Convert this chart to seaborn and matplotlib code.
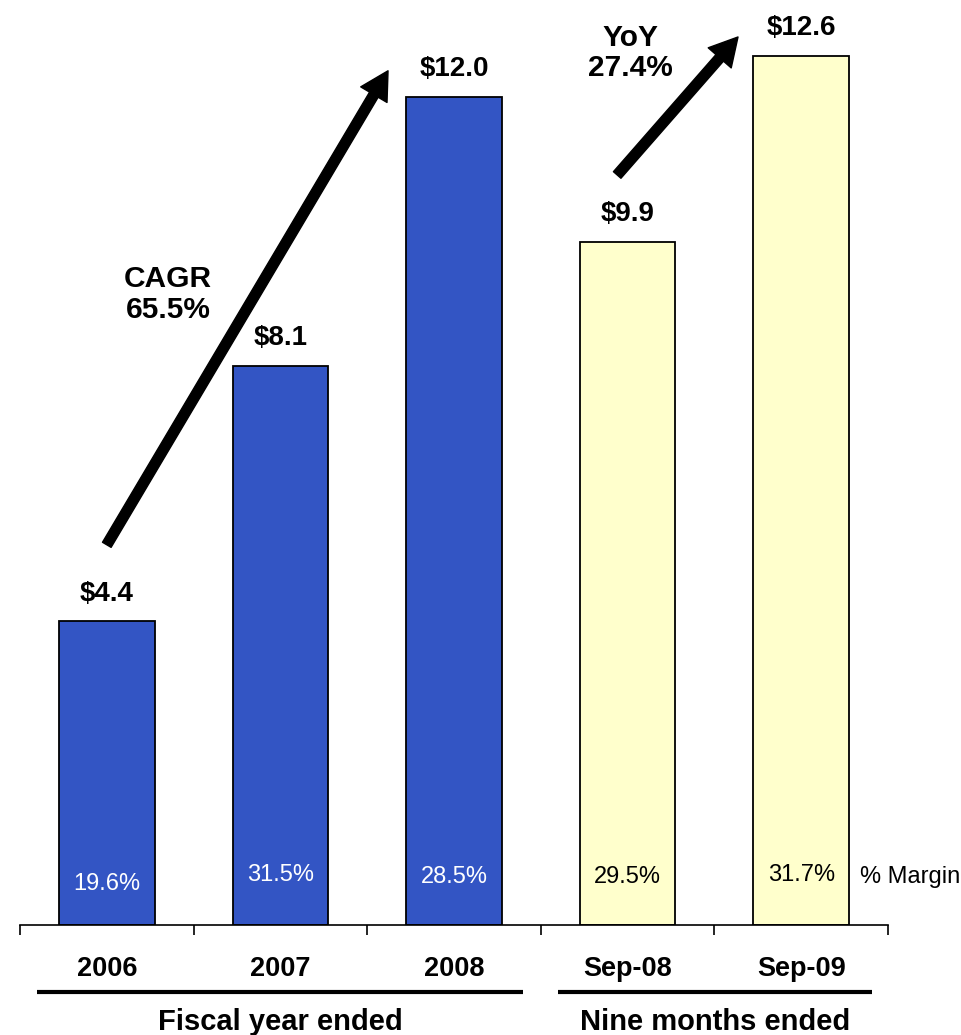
import matplotlib
matplotlib.use("Agg")
import matplotlib.pyplot as plt
import seaborn as sns
import pandas as pd
import numpy as np

# ---- data ----
categories = ["2006", "2007", "2008", "Sep-08", "Sep-09"]
values = [4.4, 8.1, 12.0, 9.9, 12.6]
value_labels = ["$4.4", "$8.1", "$12.0", "$9.9", "$12.6"]
margins = ["19.6%", "31.5%", "28.5%", "29.5%", "31.7%"]
groups = ["Fiscal year ended", "Nine months ended"]
cagr_text = "CAGR\n65.5%"
yoy_text = "YoY\n27.4%"

# ---- style ----
sns.set_style("white")
plt.rcParams["font.family"] = ["Liberation Sans", "DejaVu Sans"]
plt.rcParams["text.color"] = "black"
plt.rcParams["xtick.color"] = "black"
plt.rcParams["xtick.labelcolor"] = "black"

blue = "#3355c4"
yellow = "#ffffcc"
bar_colors = [blue, blue, blue, yellow, yellow]
margin_colors = ["white", "white", "white", "black", "black"]
margin_label_y = [0.59, 0.72, 0.70, 0.70, 0.72]

W, H = 961, 1035
fig = plt.figure(figsize=(W / 100, H / 100), dpi=100)
ax_left, ax_right = 20 / W, 888 / W
ax_bottom = (H - 925) / H
ax_top_px = 14.2
ax = fig.add_axes([ax_left, ax_bottom, ax_right - ax_left, (925 - ax_top_px) / H])

df = pd.DataFrame({"cat": categories, "val": values})
sns.barplot(data=df, x="cat", y="val", hue="cat", palette=bar_colors, legend=False,
            width=0.55, edgecolor="black", linewidth=1.3, saturation=1, ax=ax)

ax.set_xlim(-0.5, 4.5)
ax.set_ylim(0, 13.2)
ax.set_xlabel("")
ax.set_ylabel("")
ax.set_yticks([])
for s in ["top", "right", "left"]:
    ax.spines[s].set_visible(False)
ax.spines["bottom"].set_linewidth(1.2)
ax.spines["bottom"].set_color("black")

ax.set_xticks(range(len(categories)))
ax.set_xticklabels(categories, fontsize=19.5, fontweight="bold", color="black")
ax.tick_params(axis="x", which="major", length=0, pad=22)
ax.set_xticks(np.arange(-0.5, len(categories)), minor=True)
ax.tick_params(axis="x", which="minor", length=7.5, width=1.2, color="black",
               direction="out", bottom=True)

# value labels
for i, (v, lab) in enumerate(zip(values, value_labels)):
    ax.annotate(lab, (i, v), xytext=(0, 15), textcoords="offset points",
                ha="center", va="baseline", fontsize=20, fontweight="bold",
                color="black")

# margin labels
for i, (m, c, yy) in enumerate(zip(margins, margin_colors, margin_label_y)):
    ax.text(i, yy, m, ha="center", va="center", fontsize=17, color=c)
ax.text(4.34, 0.70, "% Margin", ha="left", va="center", fontsize=17, color="black",
        clip_on=False)

# arrows
for (x0, y0), (x1, y1) in [((0.0, 5.51), (1.62, 12.38)), ((2.94, 10.87), (3.636, 12.87))]:
    ax.annotate("", xy=(x1, y1), xytext=(x0, y0), annotation_clip=False,
                arrowprops=dict(width=7.2, headwidth=22, headlength=20,
                                shrink=0, facecolor="black", edgecolor="black"))

ax.text(0.353, 9.14, cagr_text, ha="center", va="center", fontsize=21.5,
        fontweight="bold", linespacing=1.12, multialignment="center", color="black")
ax.text(3.014, 12.64, yoy_text, ha="center", va="center", fontsize=21.5,
        fontweight="bold", linespacing=1.12, multialignment="center", clip_on=False,
        color="black")

# group lines and labels
for (xa, xb), name in zip([(-0.4, 2.4), (2.6, 4.41)], groups):
    ax.plot([xa, xb], [-0.97, -0.97], color="black", lw=3, clip_on=False,
            solid_capstyle="butt")
    ax.text((xa + xb) / 2, -1.52, name, ha="center", va="baseline", fontsize=21,
            fontweight="bold", clip_on=False, color="black")

fig.savefig("out.png", dpi=100)
